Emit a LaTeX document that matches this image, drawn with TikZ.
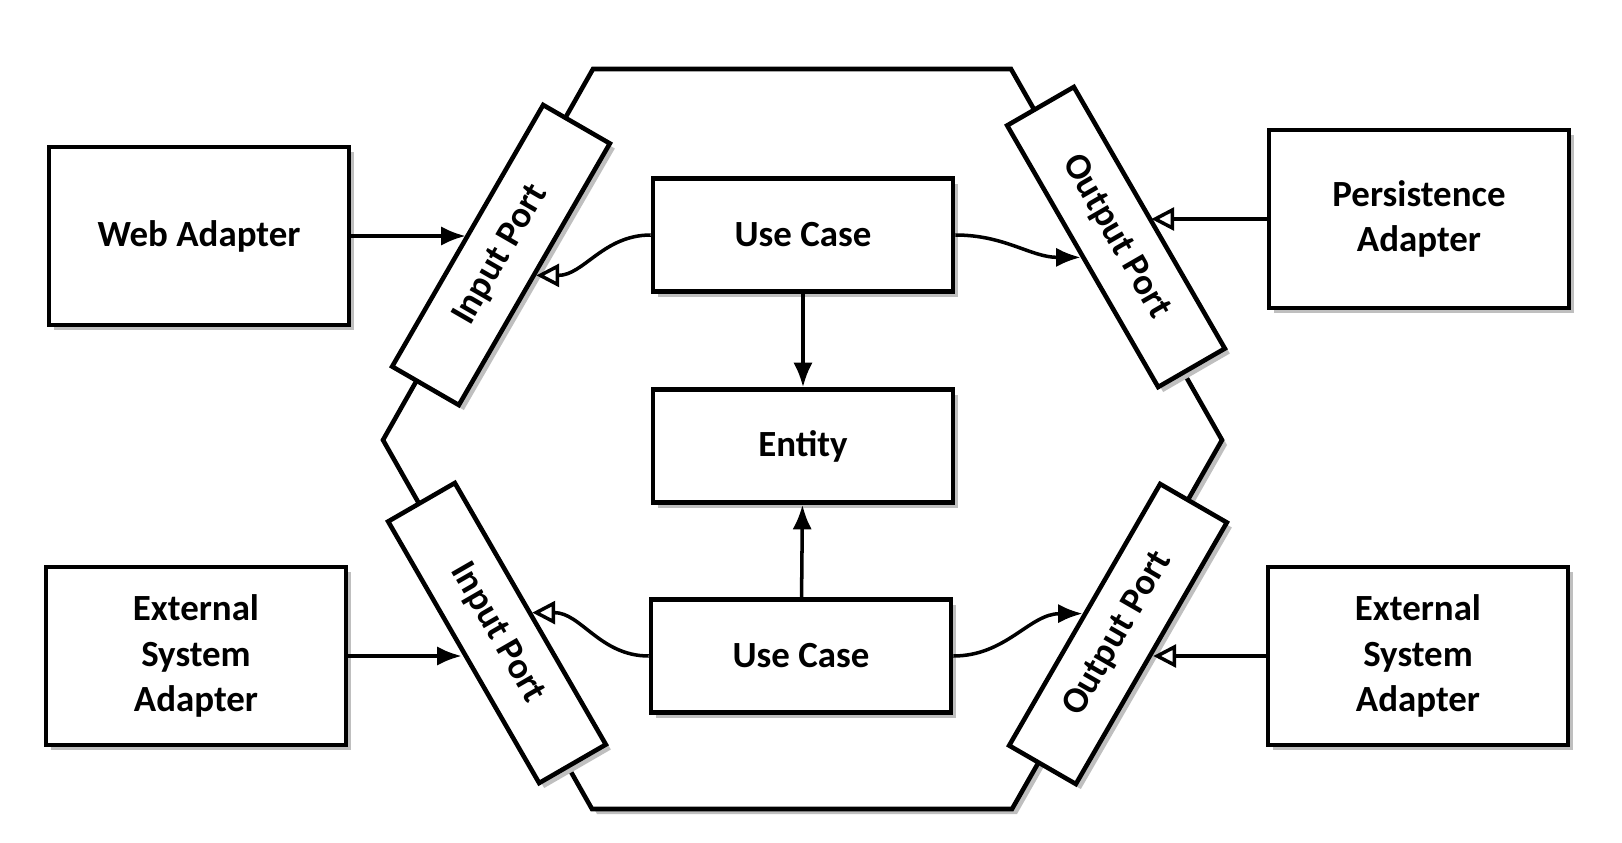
\documentclass[tikz,border=0pt]{standalone}
\usepackage{fontspec}
\setmainfont{Carlito}
\usetikzlibrary{arrows.meta,shadows}

\begin{document}
\begin{tikzpicture}[
  shade/.style={drop shadow={shadow xshift=0.5mm, shadow yshift=-0.5mm, fill=black!25, opacity=1}},
  box/.style={draw, line width=1.3pt, fill=white, shade, align=center,
    font=\fontsize{10.5}{13}\selectfont\bfseries},
  adapter/.style={box, minimum width=3.0cm, minimum height=1.78cm},
  core/.style={box, minimum width=3.0cm, minimum height=1.13cm},
  port/.style={box, minimum width=3.02cm, minimum height=0.77cm, inner sep=0pt},
  call/.style={line width=1pt, -{Latex[length=7pt, width=5.5pt]}},
  impl/.style={line width=1pt, -{Triangle[open, length=6.5pt, width=6.5pt, line width=1pt]}}
]
\useasboundingbox (0,0) rectangle (16.22,8.42);

\draw [line width=1.3pt, fill=white, shade] (5.93,7.73) -- (10.11,7.73) -- (12.22,4.02) -- (10.12,0.33) -- (5.92,0.33) -- (3.83,4.02) -- cycle;

\node[adapter] (web) at (1.99,6.06) {Web Adapter};
\node[adapter] (extl) at (1.96,1.86) {External\\System\\Adapter};
\node[adapter] (pers) at (14.19,6.23) {Persistence\\Adapter};
\node[adapter] (extr) at (14.18,1.86) {External\\System\\Adapter};

\node[core] (uct) at (8.03,6.07) {Use Case};
\node[core] (ent) at (8.03,3.96) {Entity};
\node[core] (ucb) at (8.01,1.86) {Use Case};

\node[port, rotate=60] (inpt) at (5.01,5.87) {Input Port};
\node[port, rotate=-60] (outt) at (11.16,6.05) {Output Port};
\node[port, rotate=-60] (inpb) at (4.97,2.09) {Input Port};
\node[port, rotate=60] (outb) at (11.18,2.08) {Output Port};

\draw [call] (web.east) -- (web.east -| inpt.north);
\draw [call] (extl.east) -- (extl.east -| inpb.south);
\draw [impl] (pers.west) -- (pers.west -| outt.north);
\draw [impl] (extr.west) -- (extr.west -| outb.south);

\draw [impl] (uct.west) to[out=180, in=0] (inpt.south);
\draw [call] (uct.east) to[out=0, in=180] (outt.south);
\draw [impl] (ucb.west) to[out=180, in=0] (inpb.north);
\draw [call] (ucb.east) to[out=0, in=180] (outb.north);

\draw [call] (uct) -- (ent);
\draw [call] (ucb) -- (ent);

\end{tikzpicture}
\end{document}
